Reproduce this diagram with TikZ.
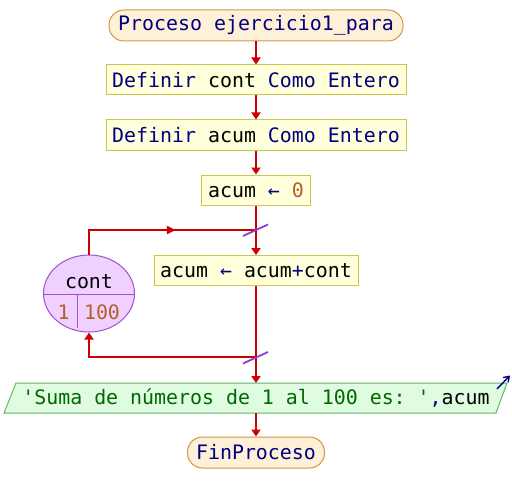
\documentclass[tikz,border=0pt]{standalone}
\usepackage{fontspec}
\setmonofont{DejaVu Sans Mono}
\usetikzlibrary{arrows.meta,shapes.geometric}
\definecolor{startfill}{HTML}{FFF0D8}
\definecolor{startdraw}{HTML}{D09848}
\definecolor{procfill}{HTML}{FFFFDC}
\definecolor{procdraw}{HTML}{C8C850}
\definecolor{outfill}{HTML}{E0FCE0}
\definecolor{outdraw}{HTML}{60B860}
\definecolor{loopfill}{HTML}{F0D0FF}
\definecolor{loopdraw}{HTML}{A050D0}
\definecolor{flowred}{HTML}{CC0000}
\definecolor{slashpurple}{HTML}{8840D0}
\definecolor{kw}{HTML}{000080}
\definecolor{strgreen}{HTML}{006800}
\definecolor{numbrown}{HTML}{B06028}
\tikzset{
  txt/.style={font=\fontsize{19.9}{22}\selectfont\ttfamily, inner sep=0pt},
  startbox/.style={txt, draw=startdraw, fill=startfill, line width=1pt, rounded corners=15pt, minimum height=31pt},
  procbox/.style={txt, draw=procdraw, fill=procfill, line width=1pt, minimum height=30pt},
  flow/.style={draw=flowred, line width=2pt, -{Triangle[length=7pt,width=9pt]}},
  flowline/.style={draw=flowred, line width=2pt},
  slash/.style={draw=slashpurple, line width=1.8pt},
}
\begin{document}
\begin{tikzpicture}[x=1pt,y=-1pt]
\useasboundingbox[fill=white] (0,0) rectangle (512,503);
% nodes
\node[startbox, minimum width=294pt] (start) at (256,25.5) {\color{kw}Proceso ejercicio1\_para};
\node[procbox, minimum width=300pt] (d1) at (256,80) {\color{kw}Definir \color{black}cont \color{kw}Como Entero};
\node[procbox, minimum width=300pt] (d2) at (256,135) {\color{kw}Definir \color{black}acum \color{kw}Como Entero};
\node[procbox, minimum width=109pt] (a0) at (256,190) {acum \color{kw}← \color{numbrown}0};
\node[procbox, minimum width=204pt] (a1) at (256,270.5) {acum \color{kw}← \color{black}acum\color{kw}+\color{black}cont};
% loop ellipse
\node[ellipse, draw=loopdraw, fill=loopfill, line width=1pt, minimum width=91pt, minimum height=77pt, inner sep=0pt] (loop) at (89,293.5) {};
\begin{scope}
  \clip (89,293.5) ellipse [x radius=45.5pt, y radius=38.5pt];
  \draw[loopdraw, line width=1pt] (40,294) -- (140,294);
  \draw[loopdraw, line width=1pt] (77.5,294) -- (77.5,328);
\end{scope}
\node[txt] (lv) at (89,282) {cont};
\node[txt, text=numbrown] (l1) at (63.5,312) {1};
\node[txt, text=numbrown] (l2) at (102,312) {100};
% output parallelogram
\coordinate (p1) at (16,383);
\coordinate (p2) at (507,383);
\coordinate (p3) at (496,413);
\coordinate (p4) at (4,413);
\draw[draw=outdraw, fill=outfill, line width=1pt] (p1) -- (p2) -- (p3) -- (p4) -- cycle;
\node[txt] (out) at (256,398) {\color{strgreen}'Suma de números de 1 al 100 es: '\color{kw},\color{black}acum};
\coordinate (oa1) at (497,389);
\coordinate (oa2) at (510,375.5);
\draw[kw, line width=1.4pt, -{Straight Barb[length=5pt,width=7pt]}] (oa1) -- (oa2);
\node[startbox, minimum width=137pt] (end) at (256,452.5) {\color{kw}FinProceso};
% connectors
\coordinate (top) at (256,230);
\coordinate (bot) at (256,357);
\coordinate (ltop) at (89,230);
\coordinate (lbot) at (89,357);
\coordinate (outtop) at (256,383);
\coordinate (outbot) at (256,413);
\draw[flow] (start.south) -- (d1.north);
\draw[flow] (d1.south) -- (d2.north);
\draw[flow] (d2.south) -- (a0.north);
\draw[flowline] (a0.south) -- (top);
\draw[flow] (top) -- (a1.north);
\draw[flowline] (a1.south) -- (bot);
\draw[flow] (bot) -- (outtop);
\draw[flow] (outbot) -- (end.north);
% loop connectors
\draw[flowline] (loop.north) -- (ltop) -- (top);
\draw[flowred, fill=flowred] (175,230) -- (167,226) -- (167,234) -- cycle;
\draw[flow] (bot) -- (lbot) -- (loop.south);
% slashes
\coordinate (s1a) at (243,236);
\coordinate (s1b) at (268,224.5);
\coordinate (s2a) at (243,363.5);
\coordinate (s2b) at (268,352);
\draw[slash] (s1a) -- (s1b);
\draw[slash] (s2a) -- (s2b);
\end{tikzpicture}
\end{document}
